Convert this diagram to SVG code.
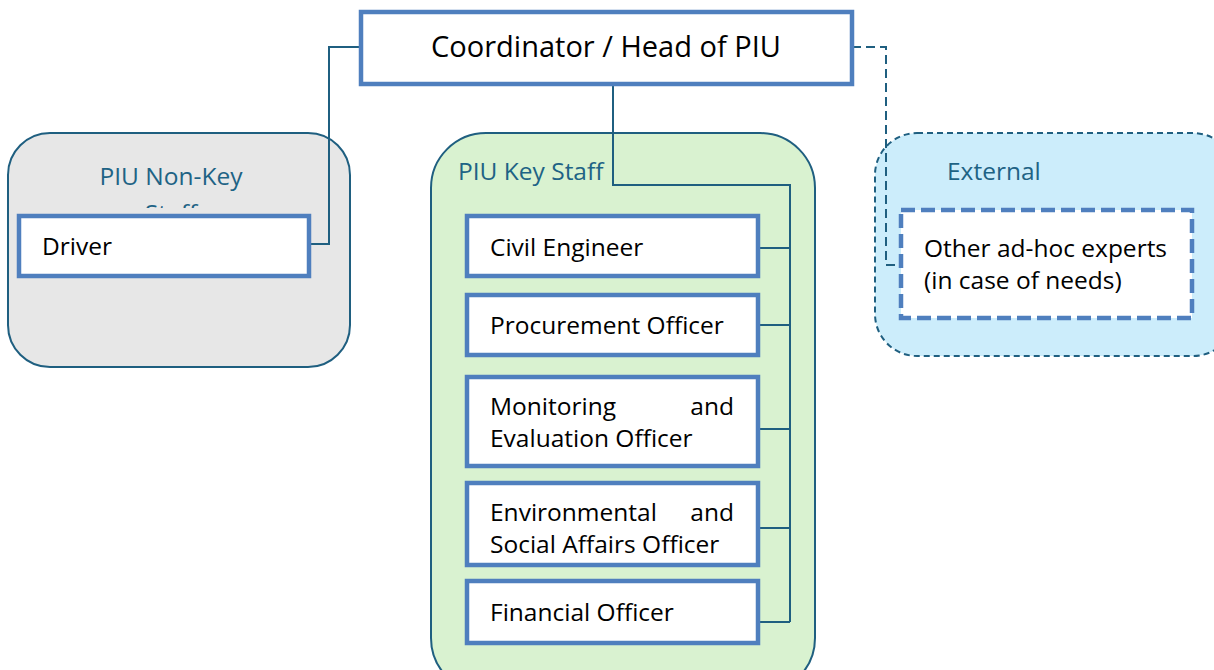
<svg xmlns="http://www.w3.org/2000/svg" width="1214" height="670" viewBox="0 0 1214 670">
<style>
.grp{stroke:#1F5F80;stroke-width:2}
.box{fill:#fff;stroke:#4F7FBE;stroke-width:4.5}
.dbox{fill:#fff;stroke:#4F7FBE;stroke-width:4.5;stroke-dasharray:14 6}
.t{font-family:"Open Sans","Liberation Sans",Arial,sans-serif;font-size:24.5px;fill:#000}
.gt{font-family:"Open Sans","Liberation Sans",Arial,sans-serif;font-size:24.5px;fill:#1E6385}
.c{fill:none;stroke:#1F5F80;stroke-width:2}
</style>
<defs>
<clipPath id="staffclip"><rect x="0" y="190" width="360" height="18"/></clipPath>
</defs>
<rect width="1214" height="670" fill="#fff"/>
<g id="nonkey">
<rect class="grp" x="8" y="133" width="342" height="234" rx="42" fill="#E7E7E7"/>
<text class="gt" x="171" y="185" text-anchor="middle">PIU Non-Key</text>
<text class="gt" x="171" y="222" text-anchor="middle" clip-path="url(#staffclip)">Staff</text>
</g>
<g id="keystaff">
<rect class="grp" x="431" y="133" width="384" height="560" rx="55" fill="#D9F2D0"/>
<text class="gt" x="458" y="180">PIU Key Staff</text>
</g>
<g id="external">
<rect class="grp" x="875" y="133" width="360" height="223" rx="42" fill="#CCEDFB" stroke-dasharray="6 4"/>
<text class="gt" x="947" y="180">External</text>
</g>
<g id="connectors">
<polyline class="c" points="361,47 329,47 329,244 309,244"/>
<polyline class="c" points="613,84 613,185 790,185 790,622"/>
<line class="c" x1="758" y1="248" x2="790" y2="248"/>
<line class="c" x1="758" y1="325" x2="790" y2="325"/>
<line class="c" x1="758" y1="429" x2="790" y2="429"/>
<line class="c" x1="758" y1="528" x2="790" y2="528"/>
<line class="c" x1="758" y1="622" x2="790" y2="622"/>
<polyline class="c" points="852,47 886,47 886,265 900,265" stroke-dasharray="9 5"/>
</g>
<g id="head">
<rect class="box" x="361" y="12" width="491" height="72"/>
<text class="t" x="606" y="57" text-anchor="middle" style="font-size:29px">Coordinator / Head of PIU</text>
</g>
<g id="driver">
<rect class="box" x="19" y="216" width="290" height="60"/>
<text class="t" x="42" y="255">Driver</text>
</g>
<g id="civil">
<rect class="box" x="467" y="216" width="291" height="60"/>
<text class="t" x="490" y="256">Civil Engineer</text>
</g>
<g id="procurement">
<rect class="box" x="467" y="295" width="291" height="60"/>
<text class="t" x="490" y="334">Procurement Officer</text>
</g>
<g id="monitoring">
<rect class="box" x="467" y="377" width="291" height="89"/>
<text class="t" x="490" y="415">Monitoring</text>
<text class="t" x="734" y="415" text-anchor="end">and</text>
<text class="t" x="490" y="447">Evaluation Officer</text>
</g>
<g id="environmental">
<rect class="box" x="467" y="483" width="291" height="82"/>
<text class="t" x="490" y="521">Environmental</text>
<text class="t" x="734" y="521" text-anchor="end">and</text>
<text class="t" x="490" y="553">Social Affairs Officer</text>
</g>
<g id="financial">
<rect class="box" x="467" y="581" width="291" height="62"/>
<text class="t" x="490" y="621">Financial Officer</text>
</g>
<g id="other">
<rect class="dbox" x="901" y="210" width="291" height="108"/>
<text class="t" x="924" y="257">Other ad-hoc experts</text>
<text class="t" x="924" y="289">(in case of needs)</text>
</g>
</svg>
